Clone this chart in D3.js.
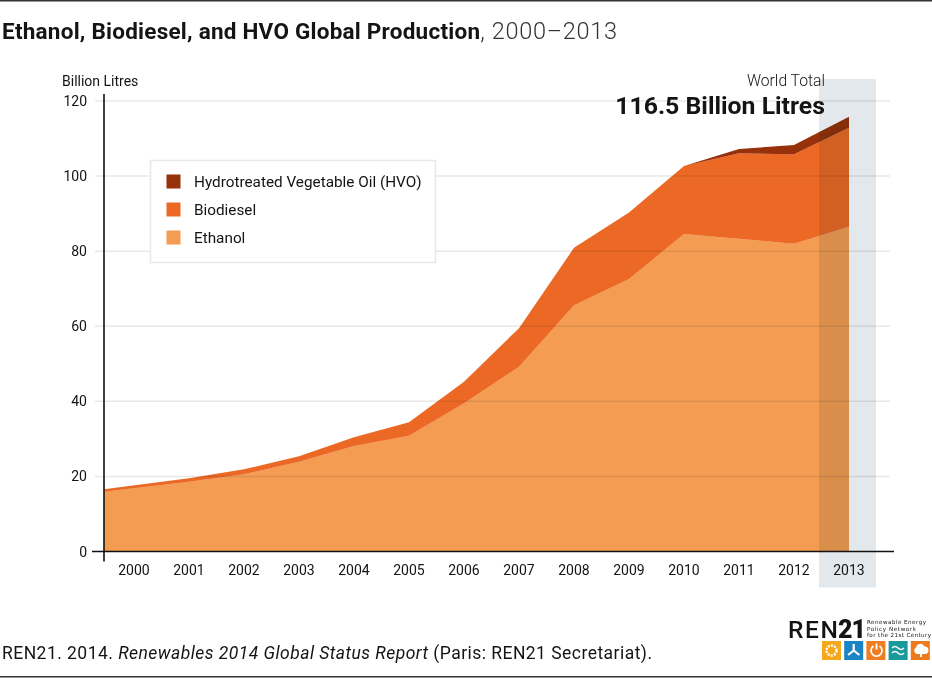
<!DOCTYPE html>
<html><head><meta charset="utf-8">
<script src="https://cdn.jsdelivr.net/npm/d3@7/dist/d3.min.js"></script>
<style>
html,body{margin:0;padding:0;background:#fff}
svg{display:block}
text{font-family:"Roboto","Liberation Sans",sans-serif;fill:#141414}
</style></head><body><svg id="c" width="932" height="678"></svg>
<script>
const years=[2000,2001,2002,2003,2004,2005,2006,2007,2008,2009,2010,2011,2012,2013];
const ethanol=[15.9,18.6,20.6,23.9,28.1,30.8,39.5,49.2,65.6,72.6,84.6,83.3,82,86.5];
const biodiesel=[0.7,0.9,1.3,1.5,2.3,3.6,5.7,10.3,15.3,17.7,18.1,22.8,23.8,26.4];
const hvo=[0,0,0,0,0,0,0,0,0,0,0,1.1,2.5,2.9];
const seriesNames=["Ethanol","Biodiesel","Hydrotreated Vegetable Oil (HVO)"];
const seriesColors=["#f49c52","#eb6924","#96310a"];
const yTicks=[0,20,40,60,80,100,120];

const svg=d3.select("#c");
const x=d3.scaleLinear().domain([2000,2013]).range([134,849]);
const y=d3.scaleLinear().domain([0,120]).range([551.5,101]);
const axisX=104;

// page rules
svg.append("rect").attr("x",0).attr("y",0).attr("width",932).attr("height",1.5).attr("fill","#333");
svg.append("rect").attr("x",0).attr("y",676).attr("width",932).attr("height",1.5).attr("fill","#333");

// title
const t=svg.append("text").attr("x",2).attr("y",38.5).attr("font-size",22.5);
t.append("tspan").attr("font-weight",700).attr("textLength",478).text("Ethanol, Biodiesel, and HVO Global Production");
t.append("tspan").attr("fill","#333").attr("font-weight",300).attr("font-size",23.5).attr("letter-spacing",0.7).text(", 2000–2013");

// grid
const g=svg.append("g");
g.selectAll("line.g").data(yTicks.slice(1)).join("line")
 .attr("x1",95).attr("x2",890).attr("y1",d=>y(d)).attr("y2",d=>y(d))
 .attr("stroke","#e8e8e8").attr("stroke-width",1.5);

// stacked areas
const rows=years.map((yr,i)=>({year:yr,e:ethanol[i],b:biodiesel[i],h:hvo[i]}));
const stack=d3.stack().keys(["e","b","h"])(rows);
const area=d3.area()
 .x((d,i)=>i===0?axisX:x(d.data.year))
 .y0(d=>y(d[0])).y1(d=>y(d[1]));
g.selectAll("path.a").data(stack).join("path").attr("d",area)
 .attr("fill",(d,i)=>seriesColors[i]).style("mix-blend-mode","multiply");

// highlight band
g.append("rect").attr("x",x(2013)-30).attr("width",57).attr("y",79).attr("height",y(0)+36-79)
 .attr("fill","#e3e8ec").style("mix-blend-mode","multiply");

// axes
const ax=svg.append("g");
ax.append("line").attr("x1",92).attr("x2",894).attr("y1",y(0)).attr("y2",y(0)).attr("stroke","#111").attr("stroke-width",1.6);
ax.append("line").attr("x1",axisX).attr("x2",axisX).attr("y1",y(120)-7).attr("y2",y(0)+10).attr("stroke","#111").attr("stroke-width",1.6);
ax.selectAll("text.y").data(yTicks).join("text").attr("x",87).attr("y",d=>y(d)+5)
 .attr("text-anchor","end").attr("font-size",14).text(d=>d);
ax.selectAll("text.x").data(years).join("text").attr("x",d=>x(d)).attr("y",574.5)
 .attr("text-anchor","middle").attr("font-size",14).text(d=>d);
ax.append("text").attr("x",62).attr("y",86).attr("font-size",14).text("Billion Litres");

// callout
svg.append("text").attr("x",825).attr("y",85.5).attr("text-anchor","end").attr("font-size",15.7).attr("font-weight",300).text("World Total");
svg.append("text").attr("x",825).attr("y",114).attr("text-anchor","end").attr("font-size",24.8).attr("font-weight",700).text("116.5 Billion Litres");

// legend
svg.append("rect").attr("x",150.5).attr("y",160.5).attr("width",285).attr("height",102).attr("fill","#fff").attr("stroke","#e8e8e8").attr("stroke-width",1.5);
const order=[2,1,0];
const leg=svg.selectAll("g.l").data(order).join("g").attr("transform",(d,i)=>`translate(0,${i*28})`);
leg.append("rect").attr("x",166.5).attr("y",174.5).attr("width",14).attr("height",14).attr("fill",d=>seriesColors[d]);
leg.append("text").attr("x",194).attr("y",186.5).attr("font-size",15.3).text(d=>seriesNames[d]);

// source
const s=svg.append("text").attr("x",2).attr("y",658.5).attr("font-size",17.5).attr("letter-spacing",0.46);
s.append("tspan").text("REN21. 2014. ");
s.append("tspan").attr("font-style","italic").text("Renewables 2014 Global Status Report");
s.append("tspan").text(" (Paris: REN21 Secretariat).");

// logo
const logo=svg.append("g");
logo.append("text").attr("x",788).attr("y",637.5).attr("font-size",24.5).attr("font-weight",500).attr("textLength",50).text("REN");
logo.append("text").attr("x",838).attr("y",637.5).attr("font-size",25).attr("font-weight",900).attr("textLength",28).text("21");
[["Renewable Energy",59],["Policy Network",49],["for the 21st Century",64]].forEach(([l,w],i)=>{
 logo.append("text").attr("x",867).attr("y",624+i*6.6).attr("font-size",5.6).style("font-family","DejaVu Sans").attr("textLength",w).text(l);
});
const tiles=["#f5a81c","#1b84c4","#ef7d22","#19999b","#ee7a1e"];
logo.selectAll("rect.t").data(tiles).join("rect").attr("x",(d,i)=>822+i*22.2).attr("y",641).attr("width",19).attr("height",19).attr("fill",d=>d);
// tile glyphs
logo.append("circle").attr("cx",831.5).attr("cy",650.5).attr("r",5).attr("fill","none").attr("stroke","#fff").attr("stroke-width",2.4).attr("stroke-dasharray","2 1.2");
logo.append("path").attr("d","M853.7 650.500L853.7 644M853.7 650.500L848 655M853.7 650.500L859.400 655").attr("stroke","#fff").attr("stroke-width",2.2).attr("fill","none");
logo.append("path").attr("d","M873.5 646a5.5 5.5 0 1 0 6 0M876.500 643.500v6").attr("stroke","#fff").attr("stroke-width",1.8).attr("fill","none");
logo.append("path").attr("d","M892 648q3-3 6 0t6 0M892 653q3-3 6 0t6 0").attr("stroke","#fff").attr("stroke-width",1.6).attr("fill","none");
logo.append("path").attr("d","M920 657v-3h-3a3.500 3.500 0 0 1-1-6.500a4.500 4.500 0 0 1 8.500-1a3.800 3.800 0 0 1 1 7.500h-3.500v3z").attr("fill","#fff");
</script></body></html>
